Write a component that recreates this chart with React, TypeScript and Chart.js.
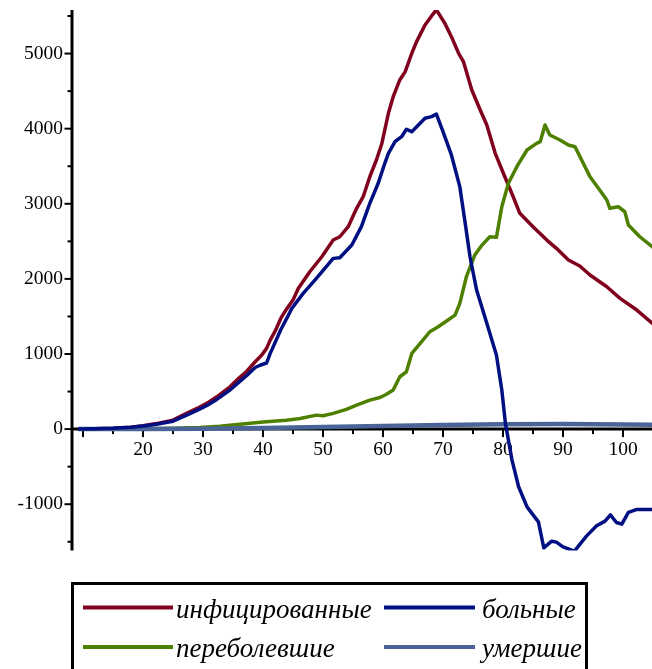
import React, { useEffect, useRef } from 'react';
import { Chart, registerables } from 'chart.js';

Chart.register(...registerables);

// ---- data: [day, value] ----
const infected: [number, number][] = [
  [9.2, 0], [12, 5], [15, 12], [18, 25], [20, 45], [22, 70], [25, 120], [27, 200], [29, 275], [31, 360],
  [32.3, 430], [34.5, 563], [36, 680], [37.3, 770], [38.7, 897], [39.8, 986], [40.6, 1075], [41.2, 1185],
  [42, 1300], [43, 1480], [44, 1607], [45, 1720], [45.9, 1874], [47.8, 2095], [49.8, 2295], [51.7, 2517],
  [52.8, 2561], [54.2, 2695], [55.6, 2940], [56.7, 3094], [57.8, 3360], [58.9, 3583], [59.8, 3800],
  [60.9, 4205], [61.7, 4426], [62.8, 4649], [63.7, 4760], [64.8, 5004], [65.6, 5159], [67, 5381],
  [68.1, 5501], [68.9, 5581], [70.3, 5404], [71.4, 5225], [72.6, 5004], [73.4, 4893], [74.8, 4515],
  [76.2, 4249], [77.3, 4049], [78.7, 3672], [80.3, 3360], [81.7, 3094], [82.8, 2873], [85, 2695],
  [87.3, 2517], [88.9, 2407], [90.9, 2251], [92.8, 2171], [94.5, 2051], [97.3, 1895], [99.5, 1741],
  [102.3, 1585], [105, 1400],
];

const sick: [number, number][] = [
  [9.2, 0], [12, 5], [15, 12], [18, 25], [20, 42], [22, 62], [25, 105], [27, 175], [29, 250], [31, 330],
  [32.3, 395], [34.5, 520], [36, 625], [37.3, 715], [38.7, 820], [39.5, 850], [40.6, 880], [41.2, 1008],
  [42, 1150], [43, 1330], [44, 1480], [44.8, 1607], [46.7, 1807], [48.9, 2007], [51.7, 2273], [52.8, 2282],
  [54.8, 2451], [56.4, 2695], [57.8, 3006], [59.2, 3273], [60.3, 3539], [60.9, 3672], [62, 3827],
  [63.1, 3893], [63.9, 3992], [64.8, 3960], [65.9, 4049], [67, 4138], [68.1, 4160], [68.9, 4195],
  [70, 3960], [71.4, 3650], [72.8, 3228], [73.7, 2740], [74.5, 2295], [75.6, 1851], [77.3, 1408],
  [78.9, 986], [79.8, 520], [80.4, 76], [81.5, -413], [82.6, -768], [84, -1035], [85.9, -1235],
  [86.8, -1581], [88.1, -1492], [88.9, -1505], [90, -1568], [91.9, -1625], [93.9, -1425], [95.6, -1288],
  [97, -1225], [97.9, -1141], [98.9, -1243], [99.8, -1265], [100.9, -1110], [102.3, -1070], [105, -1070],
];

const recovered: [number, number][] = [
  [9.2, 0], [20, 4], [25, 10], [29.5, 22], [32.8, 38], [36.2, 65], [40, 95], [43.9, 118], [46.2, 142],
  [48.9, 186], [50, 177], [51.7, 209], [53.9, 262], [55.6, 320], [57.8, 386], [59.5, 420], [60.5, 460],
  [61.7, 520], [62.8, 697], [63.9, 763], [64.8, 1008], [66.3, 1150], [67.8, 1296], [69.2, 1363],
  [70.6, 1440], [72, 1518], [72.8, 1674], [73.9, 2029], [75.3, 2318], [76.5, 2450], [77.8, 2561],
  [78.9, 2553], [79.8, 2961], [80.9, 3273], [82.3, 3494], [84, 3716], [85.6, 3805], [86.2, 3827],
  [87, 4049], [87.8, 3916], [89.5, 3849], [90.9, 3783], [92, 3760], [93.1, 3583], [94.5, 3360],
  [95.9, 3206], [97.3, 3050], [97.8, 2940], [99.2, 2961], [100.3, 2894], [100.9, 2717], [102.8, 2561],
  [105, 2420],
];

const deaths: [number, number][] = [
  [9.2, 0], [20, 2], [30, 6], [40, 15], [50, 28], [60, 42], [70, 55], [80, 65], [90, 68], [100, 62], [105, 58],
];

const seriesNames = ['инфицированные', 'больные', 'переболевшие', 'умершие'];
const seriesColors = ['#80001E', '#001082', '#4E8000', '#4A6498'];

const xTickValues = [20, 30, 40, 50, 60, 70, 80, 90, 100];
const yTickValues = [-1000, 0, 1000, 2000, 3000, 4000, 5000];

const X_MIN = 8.17;
const X_MAX = 104.83;
const Y_MIN = -1615;
const Y_MAX = 5580;

const AXIS_FONT = '"Liberation Serif", "Times New Roman", serif';

function fmtY(v: number): string {
  return v < 0 ? '-' + Math.abs(v) : String(v);
}

const axesPlugin = {
  id: 'mapleAxes',
  beforeDatasetsDraw(chart: any) {
    const { ctx, chartArea } = chart;
    const xs = chart.scales.x;
    const ys = chart.scales.y;
    const { left, right, top, bottom } = chartArea;
    const y0 = ys.getPixelForValue(0);
    ctx.save();
    ctx.strokeStyle = '#000';
    ctx.lineCap = 'butt';
    ctx.lineWidth = 3;
    ctx.beginPath();
    ctx.moveTo(left, top);
    ctx.lineTo(left, bottom);
    ctx.stroke();
    ctx.beginPath();
    ctx.moveTo(left, y0);
    ctx.lineTo(right, y0);
    ctx.stroke();
    ctx.lineWidth = 2;
    for (let v = -1500; v <= 5500; v += 500) {
      const p = ys.getPixelForValue(v);
      const len = v % 1000 === 0 ? 7.5 : 4.5;
      ctx.beginPath();
      ctx.moveTo(left - len, p);
      ctx.lineTo(left, p);
      ctx.stroke();
    }
    for (let v = 10; v <= 105; v += 5) {
      const p = xs.getPixelForValue(v);
      const len = v % 10 === 0 ? 8 : 5;
      ctx.beginPath();
      ctx.moveTo(p, y0);
      ctx.lineTo(p, y0 + len);
      ctx.stroke();
    }
    ctx.restore();
  },
};

const legendPlugin = {
  id: 'boxLegend',
  afterDraw(chart: any) {
    const { ctx } = chart;
    ctx.save();
    ctx.strokeStyle = '#000';
    ctx.lineWidth = 3;
    ctx.beginPath();
    ctx.moveTo(72.5, 672);
    ctx.lineTo(72.5, 583.5);
    ctx.lineTo(586.5, 583.5);
    ctx.lineTo(586.5, 672);
    ctx.stroke();

    const rows = [607.5, 647];
    const cols = [
      { lx1: 83, lx2: 173, tx: 176 },
      { lx1: 384, lx2: 475, tx: 482 },
    ];
    ctx.font = 'italic 27px ' + AXIS_FONT;
    ctx.textBaseline = 'alphabetic';
    ctx.textAlign = 'left';
    ctx.fillStyle = '#000';
    for (let i = 0; i < seriesNames.length; i++) {
      const r = rows[Math.floor(i / 2)];
      const c = cols[i % 2];
      ctx.strokeStyle = seriesColors[i];
      ctx.lineWidth = 4;
      ctx.beginPath();
      ctx.moveTo(c.lx1, r);
      ctx.lineTo(c.lx2, r);
      ctx.stroke();
      ctx.fillText(seriesNames[i], c.tx, r + 10);
    }
    ctx.restore();
  },
};

export default function App() {
  const ref = useRef<HTMLCanvasElement | null>(null);

  useEffect(() => {
    if (!ref.current) return;
    const toPts = (arr: [number, number][]) => arr.map(([x, y]) => ({ x, y }));
    const seriesData = [infected, sick, recovered, deaths];
    const orders = [4, 1, 3, 2];
    const widths = [3.5, 3.5, 3.5, 4.5];
    const chart = new Chart(ref.current, {
      type: 'line',
      data: {
        datasets: seriesData.map((d, i) => ({
          label: seriesNames[i],
          data: toPts(d),
          borderColor: seriesColors[i],
          backgroundColor: seriesColors[i],
          borderWidth: widths[i],
          pointRadius: 0,
          tension: 0,
          fill: false,
          order: orders[i],
          borderJoinStyle: 'round' as const,
        })),
      },
      options: {
        animation: false,
        responsive: false,
        maintainAspectRatio: false,
        devicePixelRatio: 1,
        events: [],
        layout: { padding: { left: 0, right: 0, top: 10, bottom: 118.6 } },
        plugins: {
          legend: { display: false },
          tooltip: { enabled: false },
          title: { display: false },
        },
        scales: {
          x: {
            type: 'linear',
            min: X_MIN,
            max: X_MAX,
            position: { y: 0 } as any,
            grid: { display: false, drawTicks: false },
            border: { display: false },
            ticks: {
              autoSkip: false,
              maxRotation: 0,
              padding: 9,
              color: '#000',
              font: { family: AXIS_FONT, size: 19.5 },
              callback: (v: any) => String(v),
            },
            afterBuildTicks: (s: any) => {
              s.ticks = xTickValues.map((v) => ({ value: v }));
            },
            afterFit: (s: any) => {
              s.height = 0;
              s.paddingLeft = 0;
              s.paddingRight = 0;
            },
          },
          y: {
            type: 'linear',
            position: 'left',
            min: Y_MIN,
            max: Y_MAX,
            grid: { display: false, drawTicks: false },
            border: { display: false },
            ticks: {
              autoSkip: false,
              padding: 9,
              color: '#000',
              font: { family: AXIS_FONT, size: 19.5 },
              callback: (v: any) => fmtY(Number(v)),
            },
            afterBuildTicks: (s: any) => {
              s.ticks = yTickValues.map((v) => ({ value: v }));
            },
            afterFit: (s: any) => {
              s.width = 72;
              s.paddingTop = 0;
              s.paddingBottom = 0;
            },
          },
        },
      },
      plugins: [axesPlugin, legendPlugin],
    });
    return () => chart.destroy();
  }, []);

  return (
    <div style={{ position: 'absolute', left: 0, top: 0, width: 652, height: 669, overflow: 'hidden' }}>
      <canvas ref={ref} width={652} height={669} style={{ display: 'block', width: 652, height: 669 }} />
    </div>
  );
}
